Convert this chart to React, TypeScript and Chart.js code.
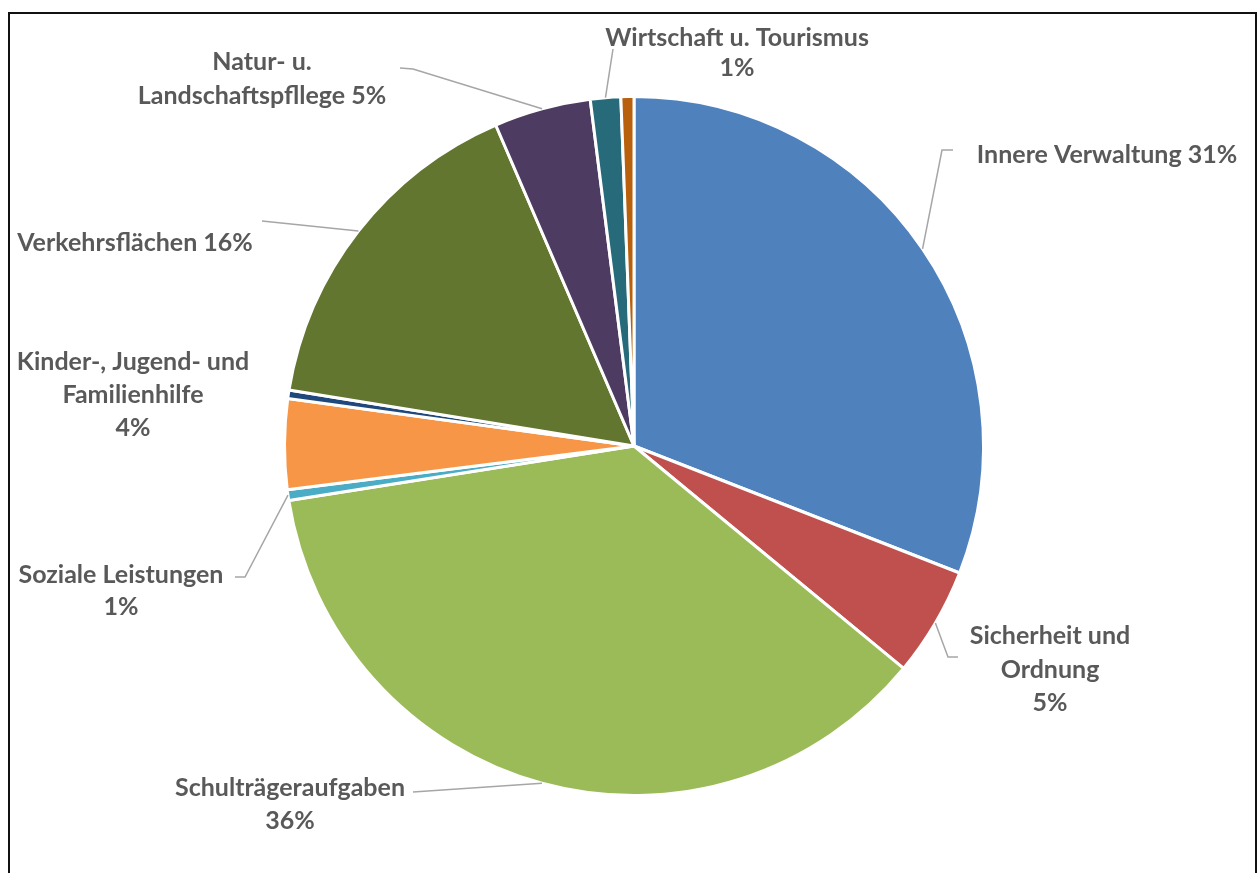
import React, { useEffect, useRef } from "react";
import { Chart, registerables } from "chart.js";

Chart.register(...registerables);

const categories = [
  "Innere Verwaltung",
  "Sicherheit und Ordnung",
  "Schulträgeraufgaben",
  "Soziale Leistungen",
  "Kinder-, Jugend- und Familienhilfe",
  "Sonstige A",
  "Verkehrsflächen",
  "Natur- u. Landschaftspfllege",
  "Wirtschaft u. Tourismus",
  "Sonstige B",
];

const shares = [30.9, 5.06, 36.5, 0.5, 4.16, 0.39, 15.96, 4.47, 1.4, 0.6];

const percentLabels = ["31%", "5%", "36%", "1%", "4%", "", "16%", "5%", "1%", ""];

const sliceColors = [
  "#4F81BD",
  "#C0504D",
  "#9BBB59",
  "#4BACC6",
  "#F79646",
  "#1F497D",
  "#62762F",
  "#4E3B62",
  "#276B7B",
  "#B8600B",
];

// label layout (page coordinates): text lines, center x, first line center y, line step, leader elbow points
const labelLayout: {
  index: number;
  lines: string[];
  cx: number;
  cy: number;
  step: number;
  leader: [number, number][] | null;
}[] = [
  { index: 0, lines: ["Innere Verwaltung 31%"], cx: 1107, cy: 155, step: 33, leader: [[942, 150], [953, 150]] },
  { index: 1, lines: ["Sicherheit und", "Ordnung", "5%"], cx: 1050, cy: 636, step: 33.5, leader: [[948, 657], [958, 657]] },
  { index: 2, lines: ["Schulträgeraufgaben", "36%"], cx: 290, cy: 788, step: 33, leader: [[413, 792]] },
  { index: 3, lines: ["Soziale Leistungen", "1%"], cx: 121, cy: 575, step: 32, leader: [[245, 577], [235, 577]] },
  { index: 4, lines: ["Kinder-, Jugend- und", "Familienhilfe", "4%"], cx: 133, cy: 362, step: 33, leader: null },
  { index: 6, lines: ["Verkehrsflächen 16%"], cx: 135, cy: 243, step: 33, leader: [[262, 221]] },
  { index: 7, lines: ["Natur- u.", "Landschaftspfllege 5%"], cx: 262, cy: 62, step: 34, leader: [[413, 69], [400, 68]] },
  { index: 8, lines: ["Wirtschaft u. Tourismus", "1%"], cx: 737, cy: 38, step: 30, leader: [[613, 49]] },
];

const labelPlugin = {
  id: "pieLabels",
  afterDraw(chart: any) {
    const ctx = chart.ctx;
    const meta = chart.getDatasetMeta(0);
    ctx.save();
    labelLayout.forEach((lab) => {
      const arc = meta.data[lab.index];
      if (!arc) return;
      const p = arc.getProps(["x", "y", "startAngle", "endAngle", "outerRadius"], true);
      const mid = (p.startAngle + p.endAngle) / 2;
      const ax = p.x + Math.cos(mid) * p.outerRadius;
      const ay = p.y + Math.sin(mid) * p.outerRadius;
      if (lab.leader) {
        ctx.beginPath();
        ctx.strokeStyle = "#A6A6A6";
        ctx.lineWidth = 1.5;
        ctx.moveTo(ax, ay);
        lab.leader.forEach(([lx, ly]) => ctx.lineTo(lx, ly));
        ctx.stroke();
      }
      ctx.fillStyle = "#595959";
      ctx.font = "bold 25px Lato, 'Open Sans', sans-serif";
      ctx.textAlign = "center";
      ctx.textBaseline = "middle";
      lab.lines.forEach((t, i) => ctx.fillText(t, lab.cx, lab.cy + i * lab.step));
    });
    ctx.restore();
  },
};

export default function App() {
  const ref = useRef<HTMLCanvasElement | null>(null);
  useEffect(() => {
    if (!ref.current) return;
    const chart = new Chart(ref.current, {
      type: "pie",
      data: {
        labels: categories.map((c, i) => (percentLabels[i] ? `${c} ${percentLabels[i]}` : c)),
        datasets: [
          {
            data: shares,
            backgroundColor: sliceColors,
            borderColor: "#FFFFFF",
            borderWidth: 3,
          },
        ],
      },
      options: {
        responsive: false,
        animation: false,
        layout: { padding: { left: 283, right: 273, top: 95, bottom: 76 } },
        plugins: {
          legend: { display: false },
          tooltip: { enabled: false },
        },
      },
      plugins: [labelPlugin],
    });
    return () => chart.destroy();
  }, []);

  return (
    <>
      <div
        style={{
          position: "fixed",
          left: 8,
          top: 12,
          width: 1249,
          height: 900,
          border: "2px solid #111",
          boxSizing: "border-box",
          background: "#fff",
        }}
      />
      <canvas
        ref={ref}
        width={1258}
        height={873}
        style={{ position: "fixed", left: 0, top: 0, width: 1258, height: 873 }}
      />
    </>
  );
}
